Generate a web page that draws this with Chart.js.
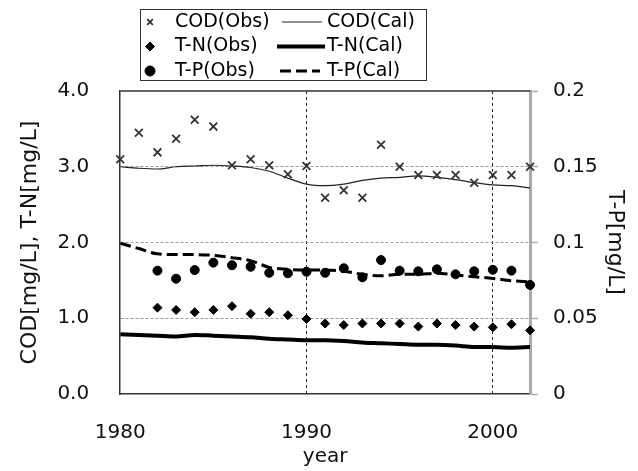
<!DOCTYPE html>
<html>
<head>
<meta charset="utf-8">
<script src="https://cdn.jsdelivr.net/npm/chart.js@4.4.1/dist/chart.umd.min.js"></script>
<style>
  html,body{margin:0;padding:0;background:#fff;}
</style>
</head>
<body>
<canvas id="wqChart" width="638" height="471"></canvas>
<script>
// yearly values
const years  = [1980,1981,1982,1983,1984,1985,1986,1987,1988,1989,1990,1991,1992,1993,1994,1995,1996,1997,1998,1999,2000,2001,2002];
const codObs = [3.10,3.45,3.19,3.37,3.62,3.53,3.02,3.10,3.02,2.90,3.01,2.59,2.69,2.59,3.29,3.00,2.89,2.89,2.89,2.79,2.89,2.89,3.00];
const codCal = [3.00,2.98,2.97,3.00,3.01,3.02,3.01,2.99,2.94,2.85,2.77,2.75,2.77,2.82,2.85,2.86,2.88,2.86,2.83,2.79,2.76,2.75,2.72];
const tnObs  = [null,null,1.14,1.11,1.08,1.11,1.16,1.06,1.08,1.04,0.99,0.93,0.91,0.93,0.93,0.93,0.89,0.93,0.91,0.89,0.88,0.92,0.84];
const tnCal  = [0.79,0.78,0.77,0.76,0.78,0.77,0.76,0.75,0.73,0.72,0.71,0.71,0.70,0.68,0.67,0.66,0.65,0.65,0.64,0.62,0.62,0.61,0.62];
const tpObs  = [null,null,0.0814,0.0761,0.0818,0.0867,0.0850,0.0840,0.0800,0.0797,0.0807,0.0800,0.0830,0.0770,0.0884,0.0814,0.0810,0.0823,0.0790,0.0810,0.0820,0.0814,0.0720];
const tpCal  = [0.0995,0.0960,0.0925,0.0920,0.0920,0.0915,0.0900,0.0880,0.0836,0.0823,0.0818,0.0818,0.0810,0.0790,0.0780,0.0790,0.0790,0.0797,0.0785,0.0774,0.0763,0.0748,0.0740];
const yearTicks = [1980,1990,2000];

const pts = arr => years.map((yr,i)=>({x:yr, y:arr[i]}));

Chart.defaults.font.family = '"DejaVu Sans", sans-serif';
Chart.defaults.color = '#111';

// frame top edge + legend box drawn on the canvas
const frameAndLegend = {
  id:'frameAndLegend',
  beforeDatasetsDraw(chart){
    const {ctx, chartArea:a} = chart;
    ctx.save();
    ctx.strokeStyle = '#333';
    ctx.lineWidth = 1.5;
    ctx.beginPath();
    ctx.moveTo(a.left, a.top);
    ctx.lineTo(a.right, a.top);
    ctx.stroke();
    ctx.restore();
  },
  afterDraw(chart){
    const ctx = chart.ctx;
    const ds = chart.data.datasets;
    ctx.save();
    ctx.strokeStyle = '#333';
    ctx.lineWidth = 1;
    ctx.strokeRect(140.5, 9.5, 286, 71);
    ctx.font = '19px "DejaVu Sans"';
    ctx.textBaseline = 'middle';
    const rows = [22, 46.5, 71];
    rows.forEach((ry, r)=>{
      const o = ds[r*2], c = ds[r*2+1];
      ctx.fillStyle = o.backgroundColor;
      ctx.strokeStyle = o.borderColor;
      ctx.lineWidth = o.borderWidth;
      Chart.helpers.drawPoint(ctx, {pointStyle:o.pointStyle, radius:o.legendRadius, borderWidth:o.borderWidth, rotation:0}, 150, ry);
      ctx.fillStyle = '#000';
      ctx.fillText(o.label, 175, ry);
      ctx.strokeStyle = c.borderColor;
      ctx.lineWidth = c.borderWidth;
      ctx.setLineDash(c.borderDash || []);
      ctx.beginPath();
      ctx.moveTo(c.legendFrom, ry);
      ctx.lineTo(c.legendTo, ry);
      ctx.stroke();
      ctx.setLineDash([]);
      ctx.fillText(c.label, 327, ry);
    });
    ctx.restore();
  }
};

new Chart(document.getElementById('wqChart'), {
  type:'line',
  data:{
    datasets:[
      {label:'COD(Obs)', data:pts(codObs), yAxisID:'y', showLine:false, pointStyle:'crossRot', pointRadius:5.5, legendRadius:4,
       borderColor:'#333', backgroundColor:'#333', borderWidth:1.8, clip:false},
      {label:'COD(Cal)', data:pts(codCal), yAxisID:'y', borderColor:'#222', borderWidth:1.2, pointRadius:0,
       cubicInterpolationMode:'monotone', legendFrom:282, legendTo:322},
      {label:'T-N(Obs)', data:pts(tnObs), yAxisID:'y', showLine:false, pointStyle:'rectRot', pointRadius:4.5, legendRadius:4.5,
       borderColor:'#000', backgroundColor:'#000', borderWidth:1, clip:false},
      {label:'T-N(Cal)', data:pts(tnCal), yAxisID:'y', borderColor:'#000', borderWidth:4, pointRadius:0,
       cubicInterpolationMode:'monotone', legendFrom:277, legendTo:325},
      {label:'T-P(Obs)', data:pts(tpObs), yAxisID:'y2', showLine:false, pointStyle:'circle', pointRadius:4.5, legendRadius:5,
       borderColor:'#000', backgroundColor:'#000', borderWidth:1, clip:false},
      {label:'T-P(Cal)', data:pts(tpCal), yAxisID:'y2', borderColor:'#000', borderWidth:3, borderDash:[11,5], pointRadius:0,
       cubicInterpolationMode:'monotone', legendFrom:280, legendTo:320}
    ]
  },
  options:{
    responsive:false,
    animation:false,
    layout:{padding:{top:91, left:13, right:6, bottom:0}},
    plugins:{legend:{display:false}, tooltip:{enabled:false}},
    scales:{
      x:{
        type:'linear', min:1980, max:2002,
        afterBuildTicks: s => { s.ticks = yearTicks.map(v=>({value:v})); },
        ticks:{padding:27, font:{size:20}, callback:v=>String(v)},
        grid:{drawTicks:false, lineWidth:1, color:c => (c.tick && c.tick.value===1980) ? 'rgba(0,0,0,0)' : '#222'},
        border:{color:'#333', width:1.5, dash:[3,3]},
        // chart.js reserves the tick padding twice, the negative top padding takes it back
        title:{display:true, text:'year', font:{size:20}, padding:{top:-27, bottom:2}}
      },
      y:{
        position:'left', min:0, max:4,
        ticks:{stepSize:1, padding:31, font:{size:20}, callback:v=>v.toFixed(1)},
        grid:{drawTicks:false, lineWidth:1, color:c => (c.tick && (c.tick.value===0 || c.tick.value===4)) ? 'rgba(0,0,0,0)' : '#999'},
        border:{color:'#333', width:1.5, dash:[3,2]},
        title:{display:true, text:'COD[mg/L], T-N[mg/L]', font:{size:22}, padding:{top:4, bottom:-17}}
      },
      y2:{
        position:'right', min:0, max:0.2,
        ticks:{stepSize:0.05, padding:15, font:{size:20}, callback:v=>String(+v.toFixed(2))},
        grid:{drawOnChartArea:false, drawTicks:true, tickLength:8, tickColor:'#aaa', tickWidth:1.5},
        border:{color:'#aaa', width:3},
        title:{display:true, text:'T-P[mg/L]', font:{size:22}, padding:{top:4, bottom:-11}}
      }
    }
  },
  plugins:[frameAndLegend]
});
</script>
</body>
</html>
